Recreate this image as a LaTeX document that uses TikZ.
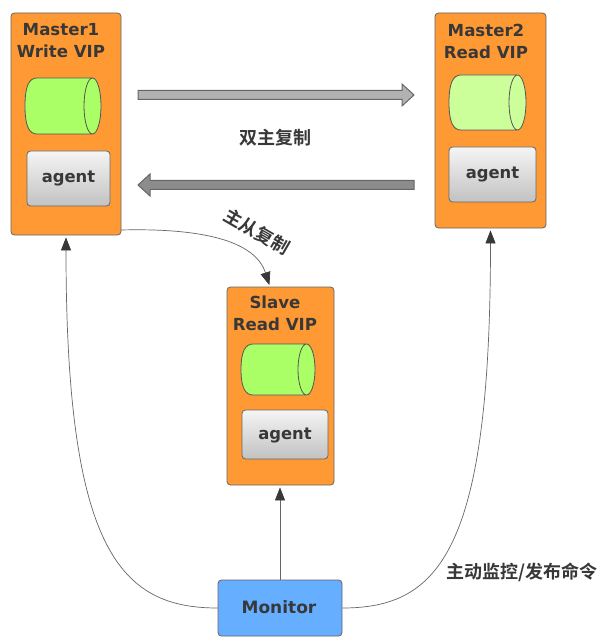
\documentclass[tikz,border=0pt]{standalone}
\usepackage{fontspec}
\setmainfont{DejaVu Sans}
\newfontfamily\cjkbold[BoldFont={Noto Sans CJK SC Bold}]{Noto Sans CJK SC}
\usetikzlibrary{arrows.meta}
\definecolor{boxorange}{HTML}{FF9933}
\definecolor{dbgreen}{HTML}{AAFF66}
\definecolor{dbpale}{HTML}{CCFF99}
\definecolor{monblue}{HTML}{66AEFF}
\definecolor{ink}{HTML}{383838}
\definecolor{edgegray}{HTML}{666666}
\newcommand{\agenttext}{\raisebox{-4.5pt}[0pt][0pt]{agent}}
\tikzset{
  hostbox/.style={draw=edgegray,line width=0.8pt,fill=boxorange,rounded corners=3.5pt,inner sep=0pt},
  agentbox/.style={draw=edgegray,line width=0.8pt,rounded corners=3.5pt,top color=white!96!black,bottom color=black!24,inner sep=0pt,font=\bfseries\fontsize{16.4}{18}\selectfont,text=ink},
  monbox/.style={draw=edgegray,line width=0.8pt,fill=monblue,rounded corners=3.5pt,inner sep=0pt,font=\bfseries\fontsize{17}{18}\selectfont,text=ink},
  dbline/.style={draw=ink!85,line width=0.8pt},
  hosttext/.style={font=\bfseries\fontsize{16.6}{22}\selectfont,text=ink,align=center,inner sep=0pt},
  cnlabel/.style={font=\cjkbold\bfseries\fontsize{18}{20}\selectfont,text=ink,inner sep=0pt},
  blockarrow/.style={draw=edgegray,line width=1pt,line join=miter},
  link/.style={draw=edgegray,line width=0.7pt,-{Triangle[length=13pt,width=10pt,color=ink]},shorten >=2pt},
}
% \dbcyl{fill}{left}{right}{top}{bottom}
\newcommand{\dbcyl}[5]{%
  \path[dbline,fill=#1] (#3-8.5,#4) -- (#2+12,#4)
    .. controls (#2+4,#4) and (#2,#4-8) .. (#2,{(#4+#5)/2})
    .. controls (#2,#5+8) and (#2+4,#5) .. (#2+12,#5)
    -- (#3-8.5,#5)
    arc[start angle=-90,end angle=90,x radius=8.5,y radius={(#4-(#5))/2}]
    arc[start angle=90,end angle=270,x radius=8.5,y radius={(#4-(#5))/2}];
}
\begin{document}
\begin{tikzpicture}[x=1pt,y=1pt]
\useasboundingbox (0,0) rectangle (607,-644);
\fill[white] (0,0) rectangle (607,-644);

\node[hostbox,minimum width=110pt,minimum height=222pt] (master1) at (66,-124) {};
\node[hostbox,minimum width=111pt,minimum height=215pt] (master2) at (490.5,-120.5) {};
\node[hostbox,minimum width=107pt,minimum height=198pt] (slave) at (280.5,-386) {};
\node[monbox,minimum width=124pt,minimum height=56pt] (monitor) at (280,-608) {};
\node[font=\bfseries\fontsize{17}{18}\selectfont,text=ink,inner sep=0pt] (montext) at (279,-607.5) {Monitor};

\node[hosttext] (m1text) at (61,-41) {Master1\\Write VIP};
\node[hosttext] (m2text) at (486,-41) {Master2\\Read VIP};
\node[hosttext] (stext) at (275,-313) {Slave\\Read VIP};

\dbcyl{dbgreen}{25}{101}{-78}{-134}
\dbcyl{dbpale}{449}{526}{-75}{-130}
\dbcyl{dbgreen}{241}{315}{-344}{-395}

\node[agentbox,minimum width=83pt,minimum height=55pt] (agent1) at (68.5,-178.5) {\agenttext};
\node[agentbox,minimum width=87pt,minimum height=55pt] (agent2) at (492.5,-174.5) {\agenttext};
\node[agentbox,minimum width=86pt,minimum height=49pt] (agent3) at (285,-434.5) {\agenttext};

\draw[blockarrow,fill=black!30] (138,-90.5) -- (402,-90.5) -- (402,-84) -- (414,-95) -- (402,-106) -- (402,-99.5) -- (138,-99.5) -- cycle;
\draw[blockarrow,fill=black!45] (414,-180.5) -- (150,-180.5) -- (150,-174) -- (138,-185) -- (150,-196) -- (150,-189.5) -- (414,-189.5) -- cycle;

\node[cnlabel] (duallabel) at (275,-138) {双主复制};
\node[cnlabel,rotate=-30] (mslabel) at (257,-232) {主从复制};
\node[cnlabel] (monlabel) at (522,-572) {主动监控/发布命令};

\coordinate (m1out) at (121,-230);
\coordinate (sin) at (270,-287);

\draw[link] (m1out) .. controls (200,-228) and (255,-240) .. (sin);
\draw[link] (monitor.west) .. controls (120,-608) and (66,-550) .. (master1.south);
\draw[link] (monitor.north) -- (monitor.north |- slave.south);
\draw[link] (monitor.east) .. controls (440,-608) and (490.5,-550) .. (master2.south);
\end{tikzpicture}
\end{document}
